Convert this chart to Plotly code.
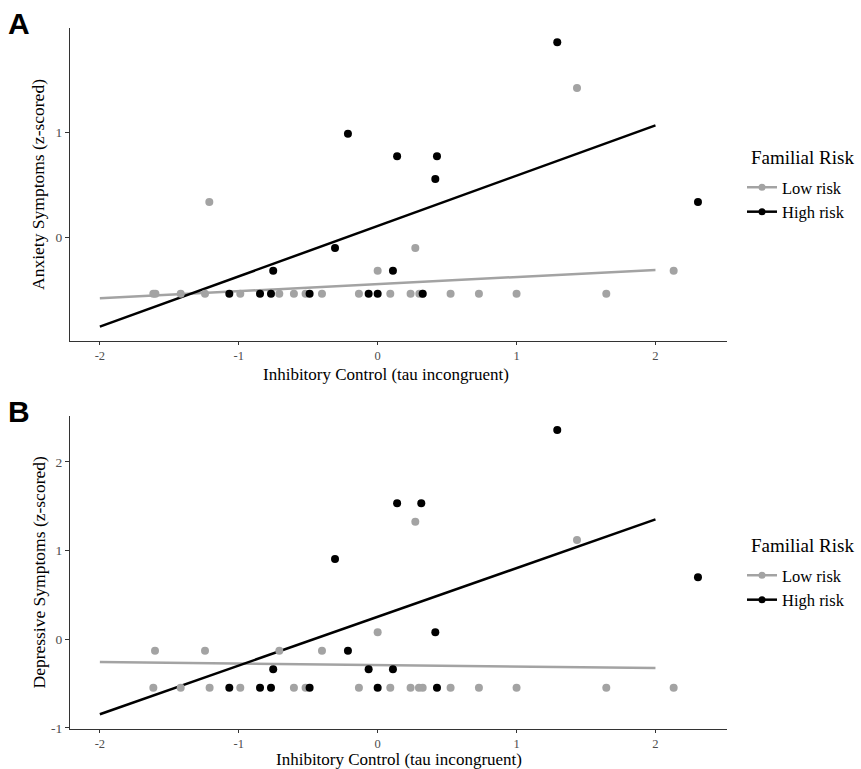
import plotly.graph_objects as go

# ---------------- data ----------------
# Panel A: Anxiety symptoms
a_low_x = [-1.615, -1.600, -1.418, -1.243, -1.212, -0.989, -0.708, -0.603, -0.519, -0.401,
           -0.135, 0.000, 0.091, 0.237, 0.271, 0.300, 0.324, 0.525, 0.729, 1.000, 1.435, 1.646, 2.131]
a_low_y = [-0.537, -0.537, -0.537, -0.537, 0.336, -0.537, -0.537, -0.537, -0.537, -0.537,
           -0.537, -0.318, -0.537, -0.537, -0.102, -0.537, -0.537, -0.537, -0.537, -0.537, 1.422, -0.537, -0.318]
a_high_x = [-1.068, -0.847, -0.768, -0.752, -0.490, -0.307, -0.214, -0.065, 0.000, 0.110,
            0.140, 0.324, 0.415, 0.427, 1.293, 2.306]
a_high_y = [-0.537, -0.537, -0.537, -0.318, -0.537, -0.102, 0.987, -0.537, -0.537, -0.318,
            0.771, -0.537, 0.555, 0.771, 1.857, 0.336]

# Panel B: Depressive symptoms
b_low_x = [-1.603, -1.615, -1.418, -1.243, -1.210, -0.989, -0.708, -0.603, -0.519, -0.401,
           -0.135, 0.000, 0.091, 0.237, 0.271, 0.297, 0.324, 0.525, 0.729, 1.000, 1.435, 1.646, 2.131]
b_low_y = [-0.128, -0.546, -0.546, -0.128, -0.546, -0.546, -0.128, -0.546, -0.546, -0.128,
           -0.546, 0.079, -0.546, -0.546, 1.327, -0.546, -0.546, -0.546, -0.546, -0.546, 1.120, -0.546, -0.546]
b_high_x = [-1.068, -0.847, -0.768, -0.752, -0.490, -0.307, -0.214, -0.065, 0.000, 0.110,
            0.140, 0.314, 0.415, 0.427, 1.293, 2.306]
b_high_y = [-0.546, -0.546, -0.546, -0.338, -0.546, 0.906, -0.128, -0.338, -0.546, -0.338,
            1.534, 1.534, 0.079, -0.546, 2.360, 0.699]

# fitted regression lines (endpoints)
fit_x = [-2, 2]
a_low_fit = [-0.581, -0.311]
a_high_fit = [-0.851, 1.066]
b_low_fit = [-0.256, -0.324]
b_high_fit = [-0.846, 1.353]

x_ticks = [-2, -1, 0, 1, 2]
x_tick_labels = ["-2", "-1", "0", "1", "2"]
a_y_ticks = [0, 1]
a_y_tick_labels = ["0", "1"]
b_y_ticks = [-1, 0, 1, 2]
b_y_tick_labels = ["-1", "0", "1", "2"]

groups = ["Low risk", "High risk"]
x_title = "Inhibitory Control (tau incongruent)"
a_y_title = "Anxiety Symptoms (z-scored)"
b_y_title = "Depressive Symptoms (z-scored)"
legend_title = "Familial Risk"

# ---------------- styling ----------------
W, H = 861, 769
ML, MR, MT, MB = 70, 134, 28, 40
PW, PH = W - ML - MR, H - MT - MB
GRAY = "#a3a3a3"
BLACK = "#000000"
SERIF = "Liberation Serif, Times New Roman, serif"
AXC = "#333333"


def px_x(p):
    return (p - ML) / PW


def px_y(p):
    return (H - MB - p) / PH


fig = go.Figure()

panels = [
    ("x", "y", "legend", a_low_x, a_low_y, a_high_x, a_high_y, a_low_fit, a_high_fit),
    ("x2", "y2", "legend2", b_low_x, b_low_y, b_high_x, b_high_y, b_low_fit, b_high_fit),
]

for xa, ya, lg, lx, ly, hx, hy, lfit, hfit in panels:
    # legend-only entries (line + dot)
    for name, col in zip(groups, [GRAY, BLACK]):
        fig.add_trace(go.Scatter(x=[None], y=[None], mode="lines+markers", name=name,
                                 line=dict(color=col, width=2.5), marker=dict(color=col, size=7),
                                 xaxis=xa, yaxis=ya, legend=lg, showlegend=True))
    fig.add_trace(go.Scatter(x=fit_x, y=lfit, mode="lines", line=dict(color=GRAY, width=2.5),
                             xaxis=xa, yaxis=ya, showlegend=False, hoverinfo="skip"))
    fig.add_trace(go.Scatter(x=fit_x, y=hfit, mode="lines", line=dict(color=BLACK, width=2.5),
                             xaxis=xa, yaxis=ya, showlegend=False, hoverinfo="skip"))
    fig.add_trace(go.Scatter(x=lx, y=ly, mode="markers", marker=dict(color=GRAY, size=8),
                             xaxis=xa, yaxis=ya, showlegend=False, name=groups[0]))
    fig.add_trace(go.Scatter(x=hx, y=hy, mode="markers", marker=dict(color=BLACK, size=8),
                             xaxis=xa, yaxis=ya, showlegend=False, name=groups[1]))

xaxis_common = dict(
    range=[-2.215, 2.515], tickvals=x_ticks, ticktext=x_tick_labels,
    showline=True, linecolor=AXC, linewidth=1.3, ticks="outside", ticklen=2.5,
    tickcolor=AXC, tickwidth=1.1, showgrid=False, zeroline=False, automargin=False,
    tickfont=dict(family=SERIF, size=12.5, color="#4d4d4d"),
)
yaxis_common = dict(
    showline=True, linecolor=AXC, linewidth=1.3, ticks="outside", ticklen=4,
    tickcolor=AXC, tickwidth=1.1, showgrid=False, zeroline=False, automargin=False,
    tickfont=dict(family=SERIF, size=13.5, color="#4d4d4d"),
)

a_dom = [px_y(341), px_y(28)]
b_dom = [px_y(729), px_y(415.7)]

legend_common = dict(xanchor="left", yanchor="top",
                     font=dict(family=SERIF, size=16.5, color="#000"), bgcolor="rgba(0,0,0,0)",
                     itemwidth=30, tracegroupgap=0)

title_font = dict(family=SERIF, size=17.5, color="#000")
x_title_font = dict(family=SERIF, size=17, color="#000")

fig.update_layout(
    width=W, height=H,
    margin=dict(l=ML, r=MR, t=MT, b=MB, autoexpand=False),
    paper_bgcolor="white", plot_bgcolor="white",
    xaxis=dict(**xaxis_common, domain=[0, 1], anchor="y"),
    xaxis2=dict(**xaxis_common, domain=[0, 1], anchor="y2"),
    yaxis=dict(**yaxis_common, domain=a_dom, anchor="x", range=[-0.988, 1.993],
               tickvals=a_y_ticks, ticktext=a_y_tick_labels,
               title=dict(text=a_y_title, font=title_font, standoff=6)),
    yaxis2=dict(**yaxis_common, domain=b_dom, anchor="x2", range=[-1.012, 2.522],
                tickvals=b_y_ticks, ticktext=b_y_tick_labels,
                title=dict(text=b_y_title, font=title_font, standoff=0)),
    legend=dict(x=px_x(742), y=px_y(170), **legend_common),
    legend2=dict(x=px_x(742), y=px_y(558), **legend_common),
    annotations=[
        dict(text="<b>A</b>", x=px_x(6), y=px_y(5), xref="paper", yref="paper",
             xanchor="left", yanchor="top", showarrow=False,
             font=dict(family="Liberation Sans, Arial, sans-serif", size=30, color="#000")),
        dict(text="<b>B</b>", x=px_x(6), y=px_y(393), xref="paper", yref="paper",
             xanchor="left", yanchor="top", showarrow=False,
             font=dict(family="Liberation Sans, Arial, sans-serif", size=30, color="#000")),
        dict(text=legend_title, x=px_x(749), y=px_y(158), xref="paper", yref="paper",
             xanchor="left", yanchor="middle", showarrow=False,
             font=dict(family=SERIF, size=19, color="#000")),
        dict(text=legend_title, x=px_x(749), y=px_y(545), xref="paper", yref="paper",
             xanchor="left", yanchor="middle", showarrow=False,
             font=dict(family=SERIF, size=19, color="#000")),
        dict(text=x_title, x=px_x(386), y=px_y(374), xref="paper", yref="paper",
             xanchor="center", yanchor="middle", showarrow=False, font=x_title_font),
        dict(text=x_title, x=px_x(398.5), y=px_y(759), xref="paper", yref="paper",
             xanchor="center", yanchor="middle", showarrow=False, font=x_title_font),
    ],
)

fig.write_html("out.html", post_script="document.body.style.margin='0px';",
               config={"displayModeBar": False})
